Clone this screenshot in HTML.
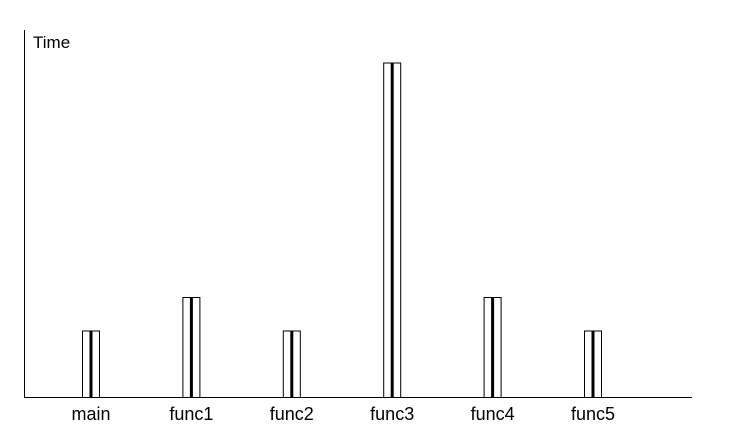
<!DOCTYPE html>
<html><head><meta charset="utf-8"><style>
html,body{margin:0;padding:0;background:#fff;}
svg{display:block;font-family:"Liberation Sans",sans-serif;}
</style></head><body>
<svg id="chart" width="742" height="446" viewBox="0 0 742 446">
<line x1="24.5" y1="30" x2="24.5" y2="397.5" stroke="#000" stroke-width="1"/>
<line x1="24" y1="397.5" x2="692" y2="397.5" stroke="#000" stroke-width="1"/>
<text x="33" y="48" font-size="17" fill="#000">Time</text>
<g id="bars"></g>
<g id="labels"></g>
</svg>
<script>
const categories = ["main","func1","func2","func3","func4","func5"];
const values = [2,3,2,10,3,2];
const x0 = 91, xStep = 100.4;
const baseY = 397.5, unit = 33.5;
function xPos(i){return x0 + i*xStep;}
function yPos(v){return baseY - v*unit;}
const ns="http://www.w3.org/2000/svg";
const bars=document.getElementById('bars'), labels=document.getElementById('labels');
categories.forEach((c,i)=>{
  const cx=xPos(i), top=yPos(values[i]);
  const g=document.createElementNS(ns,'g');
  
  
  const r=document.createElementNS(ns,'rect');
  r.setAttribute('x',cx-8.5);r.setAttribute('y',top+0.5);
  r.setAttribute('width',17);r.setAttribute('height',baseY-top-0.5);
  r.setAttribute('fill','#fff');r.setAttribute('stroke','#000');r.setAttribute('stroke-width','1');
  
  
  g.appendChild(r);
  const m=document.createElementNS(ns,'rect');
  m.setAttribute('x',cx-1.5);m.setAttribute('y',top);
  m.setAttribute('width',3);m.setAttribute('height',baseY-top);
  m.setAttribute('fill','#000');
  
  
  g.appendChild(m);
  bars.appendChild(g);
  const t=document.createElementNS(ns,'text');
  t.setAttribute('x',cx);t.setAttribute('y',420);
  t.setAttribute('text-anchor','middle');t.setAttribute('font-size','18');
  t.textContent=c;
  
  
  labels.appendChild(t);
});
</script>
</body></html>
